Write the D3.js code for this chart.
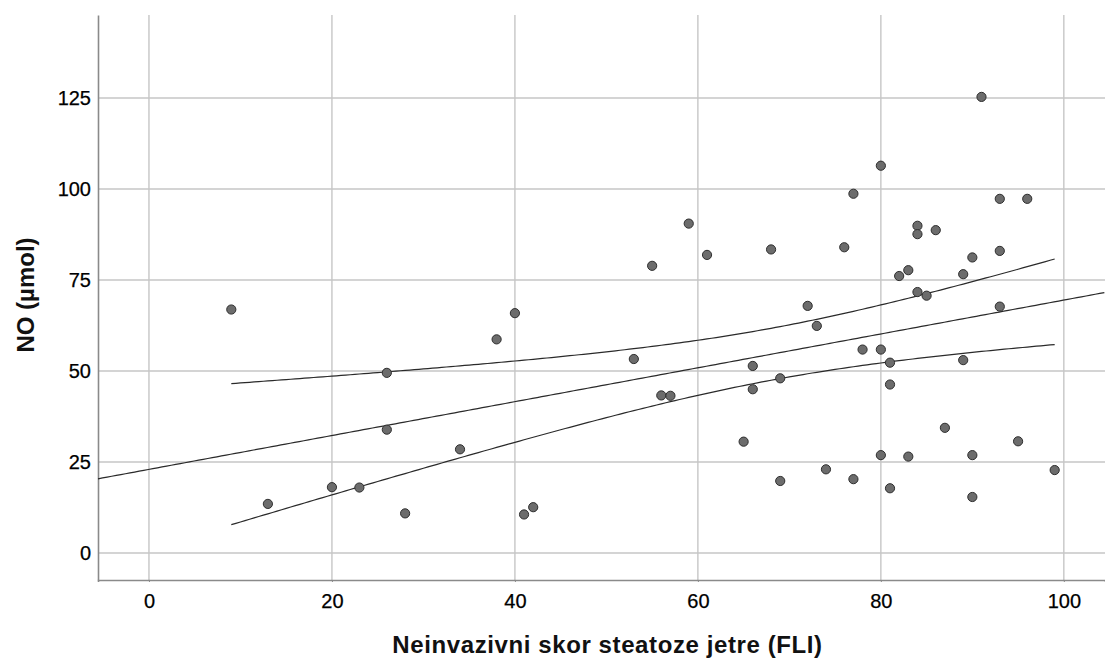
<!DOCTYPE html>
<html>
<head>
<meta charset="utf-8">
<script src="https://cdn.jsdelivr.net/npm/d3@7"></script>
<style>
  body { margin: 0; background: #fff; }
  text { font-family: "Liberation Sans", Arial, sans-serif; }
</style>
</head>
<body>
<svg id="chart"></svg>
<script>
// FLI score (x) and NO in µmol (y)
const fli = [9, 13, 20, 23, 26, 26, 28, 34, 38, 40, 41, 42,
  53, 55, 56, 57, 59, 61, 65, 66, 66, 68, 69, 69,
  72, 73, 74, 76, 77, 77, 78, 80, 80, 80, 81, 81, 81,
  82, 83, 83, 84, 84, 84, 85, 86, 87, 89, 89, 90, 90, 90,
  91, 93, 93, 93, 95, 96, 99];
const no = [66.9, 13.5, 18.1, 18.0, 49.5, 33.9, 10.9, 28.5, 58.7, 65.9, 10.6, 12.6,
  53.3, 78.9, 43.3, 43.2, 90.5, 81.9, 30.6, 51.4, 45.0, 83.4, 48.0, 19.8,
  67.9, 62.4, 23.0, 84.0, 98.7, 20.3, 55.9, 106.4, 55.9, 26.9, 52.3, 46.3, 17.8,
  76.1, 77.7, 26.5, 89.9, 87.6, 71.7, 70.7, 88.7, 34.4, 76.6, 53.0, 81.2, 26.9, 15.4,
  125.3, 97.3, 83.0, 67.7, 30.7, 97.3, 22.8];
const xTicks = [0, 20, 40, 60, 80, 100];
const yTicks = [0, 25, 50, 75, 100, 125];

const width = 1105;
const height = 661;
const margin = { top: 15, right: 0, bottom: 81, left: 98 };

const svg = d3.select("#chart")
  .attr("width", width)
  .attr("height", height);

const x = d3.scaleLinear()
  .domain([-5.57, 104.5])
  .range([margin.left, width - margin.right]);

const y = d3.scaleLinear()
  .domain([-7.4, 147.8])
  .range([height - margin.bottom, margin.top]);

// grid
svg.append("g")
  .selectAll("line")
  .data(xTicks)
  .enter()
  .append("line")
  .attr("x1", d => x(d)).attr("x2", d => x(d))
  .attr("y1", y.range()[0]).attr("y2", y.range()[1])
  .attr("stroke", "#c6c6c6")
  .attr("stroke-width", 1.4);

svg.append("g")
  .selectAll("line")
  .data(yTicks)
  .enter()
  .append("line")
  .attr("x1", x.range()[0]).attr("x2", x.range()[1])
  .attr("y1", d => y(d)).attr("y2", d => y(d))
  .attr("stroke", "#c6c6c6")
  .attr("stroke-width", 1.4);

// axes
const xAxis = d3.axisBottom(x).tickValues(xTicks).tickSize(2).tickPadding(12);
const yAxis = d3.axisLeft(y).tickValues(yTicks).tickSize(0).tickPadding(7);

const gx = svg.append("g")
  .attr("transform", "translate(0," + (height - margin.bottom) + ")")
  .call(xAxis);
const gy = svg.append("g")
  .attr("transform", "translate(" + margin.left + ",0)")
  .call(yAxis);

[gx, gy].forEach(g => {
  g.select(".domain").attr("stroke", "#8a8a8a").attr("stroke-width", 1.6);
  g.selectAll(".tick line").attr("stroke", "#8a8a8a");
  g.selectAll("text")
    .attr("fill", "#000")
    .attr("stroke", "#000")
    .attr("stroke-width", 0.25)
    .style("font-size", "20px")
    .style("font-family", "'Liberation Sans', Arial, sans-serif");
});

// linear fit and 95% mean confidence band
const n = fli.length;
const mx = d3.mean(fli);
const my = d3.mean(no);
const sxx = d3.sum(fli, d => (d - mx) * (d - mx));
const sxy = d3.sum(fli, (d, i) => (d - mx) * (no[i] - my));
const slope = sxy / sxx;
const icpt = my - slope * mx;
const sse = d3.sum(fli, (d, i) => Math.pow(no[i] - (icpt + slope * d), 2));
const s = Math.sqrt(sse / (n - 2));
const tCrit = 2.003;

const fitPts = d3.range(x.domain()[0], x.domain()[1] + 0.01, 0.5)
  .map(v => [v, icpt + slope * v]);
const lo = d3.min(fli), hi = d3.max(fli);
const band = d3.range(lo, hi + 0.01, 0.5).map(v => {
  const half = tCrit * s * Math.sqrt(1 / n + (v - mx) * (v - mx) / sxx);
  return { v: v, fit: icpt + slope * v, half: half };
});

const line = d3.line().x(d => x(d[0])).y(d => y(d[1]));

const fits = svg.append("g")
  .attr("fill", "none")
  .attr("stroke", "#2a2a2a")
  .attr("stroke-width", 1.2);
fits.append("path").attr("d", line(fitPts));
fits.append("path").attr("d", line(band.map(d => [d.v, d.fit + d.half])));
fits.append("path").attr("d", line(band.map(d => [d.v, d.fit - d.half])));

// points
svg.append("g")
  .selectAll("circle")
  .data(fli)
  .enter()
  .append("circle")
  .attr("cx", d => x(d))
  .attr("cy", (d, i) => y(no[i]))
  .attr("r", 4.6)
  .attr("fill", "#6c6c6c")
  .attr("stroke", "#2e2e2e")
  .attr("stroke-width", 1);

// titles
svg.append("text")
  .attr("x", (x.range()[0] + x.range()[1]) / 2 + 6)
  .attr("y", 653)
  .attr("text-anchor", "middle")
  .style("font-size", "24px")
  .style("font-weight", "bold")
  .style("letter-spacing", "0.6px")
  .attr("fill", "#111")
  .text("Neinvazivni skor steatoze jetre (FLI)");

svg.append("text")
  .attr("transform", "translate(34," + 295 + ") rotate(-90)")
  .attr("text-anchor", "middle")
  .style("font-size", "24px")
  .style("font-weight", "bold")
  .attr("fill", "#111")
  .text("NO (µmol)");
</script>
</body>
</html>
